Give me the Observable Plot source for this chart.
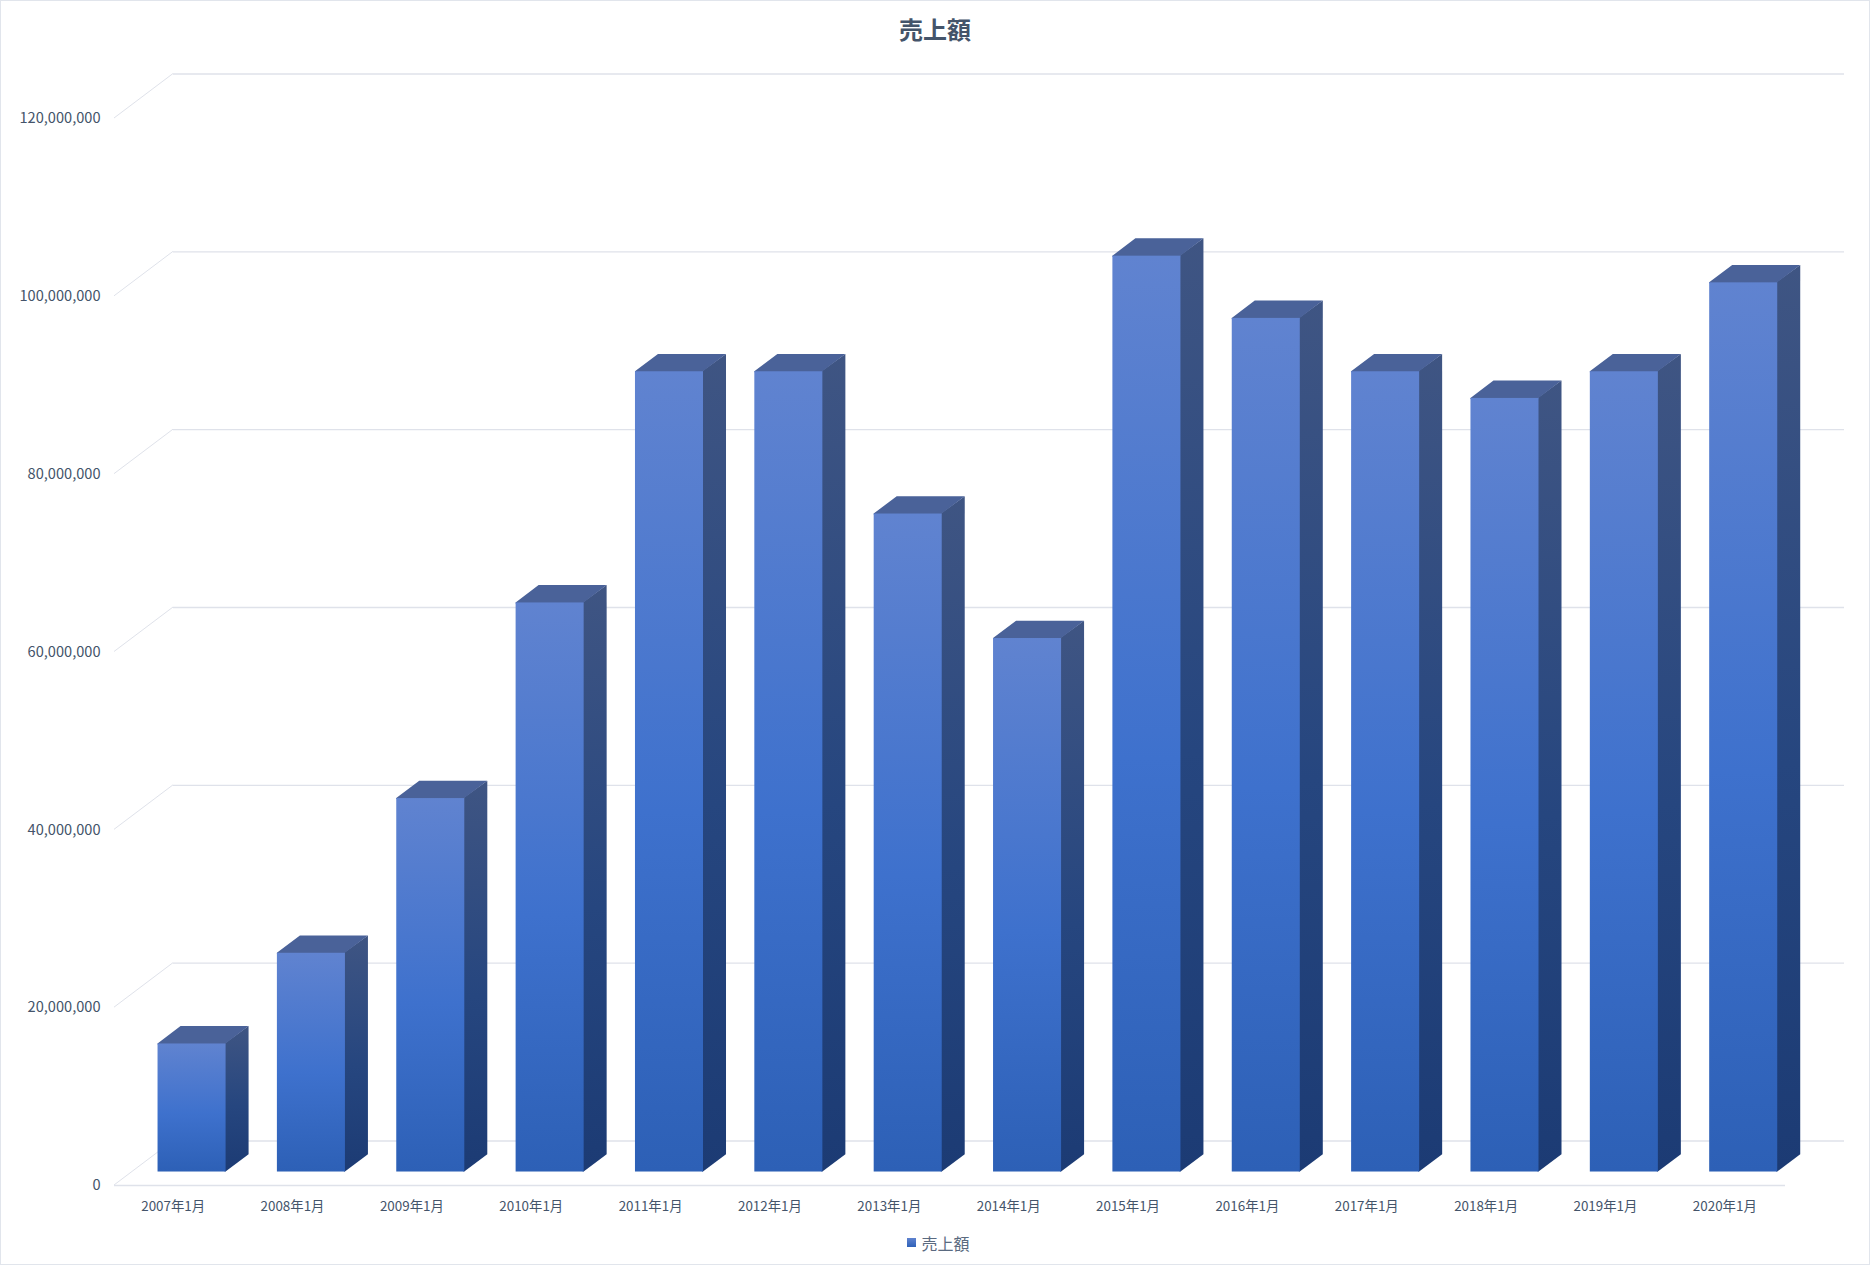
<!DOCTYPE html>
<html lang="ja">
<head>
<meta charset="utf-8">
<script src="https://cdn.jsdelivr.net/npm/d3@7"></script>
<script src="https://cdn.jsdelivr.net/npm/@observablehq/plot@0.6"></script>
<style>
html,body{margin:0;padding:0;background:#fff;}
#chart{position:relative;width:1870px;height:1265px;box-sizing:border-box;border:1px solid #e1e5ec;overflow:hidden;font-family:"Noto Sans CJK JP","Noto Sans",sans-serif;color:#44546a;}
#title{height:59px;line-height:55px;text-align:center;font-size:24px;font-weight:700;color:#44546a;}
#legend{height:35px;padding-bottom:5px;padding-left:7px;display:flex;align-items:center;justify-content:center;font-size:16px;color:#5a6a80;gap:5px;}
#legend i{display:block;width:9px;height:9px;background:linear-gradient(#5f82cf,#2f62b8);}
</style>
</head>
<body>
<div id="chart">
  <div id="title">売上額</div>
  <div id="plot"></div>
  <div id="legend"><i></i><span>売上額</span></div>
</div>
<script>
const categories = ["2007年1月","2008年1月","2009年1月","2010年1月","2011年1月","2012年1月","2013年1月","2014年1月","2015年1月","2016年1月","2017年1月","2018年1月","2019年1月","2020年1月"];
const sales = [14400000,24600000,42000000,64000000,90000000,90000000,74000000,60000000,103000000,96000000,90000000,87000000,90000000,100000000];
const yTicks = [0,20000000,40000000,60000000,80000000,100000000,120000000];
const rows = categories.map((c,i)=>({month:c,sales:sales[i]}));

// oblique projection of the floor depth
const depthX = 59, depthY = 44.5;
const barNear = 0.303, barFar = 0.693;
const gridColor = "#dfe2ea";

const gradients = () => {
  const s = d3.create("svg:defs");
  const add = (id, stops) => {
    const g = s.append("linearGradient").attr("id",id).attr("x1",0).attr("y1",0).attr("x2",0).attr("y2",1);
    stops.forEach(([o,c])=>g.append("stop").attr("offset",o).attr("stop-color",c));
  };
  add("front",[[0,"#6083d0"],[0.55,"#3e71cd"],[1,"#2d60b6"]]);
  add("side",[[0,"#3f5583"],[0.55,"#26467f"],[1,"#1c3b74"]]);
  return s.node();
};

const diagonals = Plot.ruleY(yTicks,{
  render(index,scales,values,dim){
    const g = d3.create("svg:g");
    const x0 = dim.marginLeft;
    for (const i of index) {
      const y = scales.y(yTicks[i]);
      g.append("line").attr("x1",x0).attr("y1",y).attr("x2",x0+depthX).attr("y2",y-depthY)
       .attr("stroke",gridColor).attr("stroke-width",1);
    }
    return g.node();
  }
});

const faces = Plot.barY(rows,{x:"month",y:"sales",
  render(index,scales,values){
    const g = d3.create("svg:g");
    const w = scales.x.bandwidth();
    for (const i of index) {
      const d = rows[i];
      const x0 = scales.x(d.month)+depthX*barNear, x1 = x0+w;
      const yb = scales.y(0)-depthY*barNear, yt = scales.y(d.sales)-depthY*barNear;
      const ox = depthX*(barFar-barNear), oy = depthY*(barFar-barNear);
      g.append("polygon").attr("points",`${x1-1},${yt} ${x1+ox},${yt-oy} ${x1+ox},${yb-oy} ${x1},${yb} ${x1-1},${yb}`).attr("fill","url(#side)");
      g.append("polygon").attr("points",`${x0},${yt+1} ${x0},${yt} ${x0+ox},${yt-oy} ${x1+ox},${yt-oy} ${x1},${yt} ${x1},${yt+1}`).attr("fill","#4a6299");
      g.append("rect").attr("x",x0).attr("y",yt).attr("width",w).attr("height",yb-yt).attr("fill","url(#front)");
    }
    return g.node();
  }
});

const chart = Plot.plot({
  width:1868,height:1165,
  marginTop:58,marginBottom:40,marginLeft:113,marginRight:84,
  style:{fontFamily:'"Noto Sans CJK JP","Noto Sans",sans-serif',background:"transparent"},
  x:{type:"band",domain:categories,paddingInner:0.43,paddingOuter:0.215,align:0.5,round:false,label:null},
  y:{domain:[0,120000000],label:null},
  marks:[
    gradients,
    Plot.ruleY(yTicks,{dx:depthX,dy:-depthY,stroke:gridColor,strokeWidth:1.3}),
    diagonals,
    Plot.ruleY([0],{stroke:gridColor,strokeWidth:1.5}),
    faces,
    Plot.axisY({ticks:yTicks,tickFormat:d3.format(","),tickSize:0,tickPadding:14,fontSize:14.6,color:"#44546a",label:null}),
    Plot.axisX({tickSize:0,tickPadding:16,fontSize:13.4,dx:-1,color:"#44546a",label:null})
  ]
});
document.getElementById("plot").appendChild(chart);
</script>
</body>
</html>
